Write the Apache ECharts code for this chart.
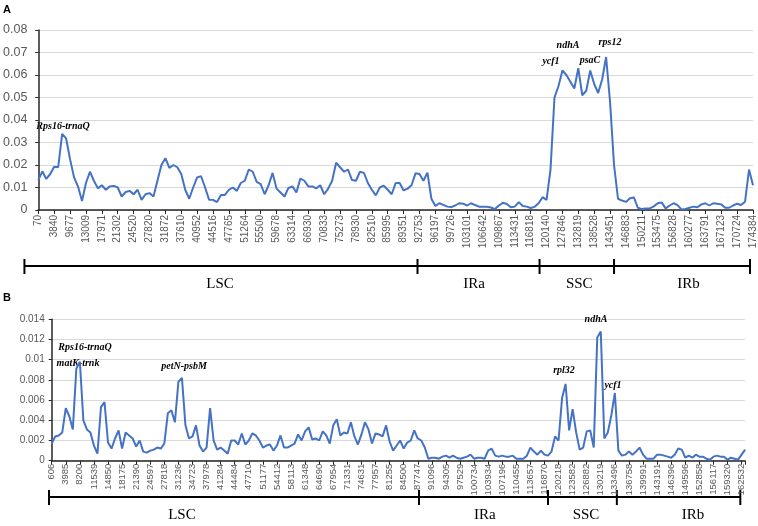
<!DOCTYPE html>
<html>
<head>
<meta charset="utf-8">
<script src="https://cdn.jsdelivr.net/npm/echarts@6/dist/echarts.min.js"></script>
<style>
  html, body { margin: 0; padding: 0; background: #fff; }
  #chart { width: 758px; height: 526px; }
</style>
</head>
<body>
<div id="chart"></div>
<script>
// tick labels (window start positions)
var ticksA = ['70','3840','9677','13009','17971','21302','24520','27820','31872','37610','40952','44516',
  '47765','51264','55500','59678','63314','66930','70833','75273','78930','82510','85995','89351','92753',
  '96197','99726','103101','106642','109867','113431','116818','120140','127846','132819','138528','143451',
  '146883','150211','153475','156828','160277','163791','167123','170724','174384'];
var ticksB = ['606','3985','8200','11539','14850','18175','21390','24597','27818','31236','34723','37978',
  '41284','44484','47710','51177','54412','58113','61348','64690','67954','71331','74631','77957','81255',
  '84500','87747','91096','94305','97529','100734','103934','107196','110455','113657','116870','120218',
  '123582','126882','130219','133496','136758','139991','143191','146396','149596','152858','156117',
  '159320','162532'];

// nucleotide diversity, 4 samples per tick interval
var valsA = [0.0133,0.0172,0.0138,0.016,0.0192,0.019,0.0338,0.0318,0.0225,0.0145,
  0.0104,0.004,0.012,0.017,0.013,0.0096,0.011,0.009,0.0105,0.0107,
  0.010,0.006,0.008,0.0085,0.007,0.009,0.0045,0.007,0.0075,0.006,
  0.013,0.020,0.023,0.0187,0.020,0.019,0.016,0.009,0.005,0.010,
  0.0145,0.015,0.010,0.0046,0.0045,0.0035,0.0067,0.0067,0.009,0.010,
  0.0085,0.012,0.013,0.018,0.017,0.0125,0.0115,0.007,0.011,0.0165,
  0.0095,0.0078,0.006,0.0098,0.0105,0.0078,0.014,0.013,0.0105,0.0105,
  0.0096,0.011,0.007,0.0095,0.013,0.021,0.019,0.017,0.018,0.0133,
  0.013,0.017,0.0165,0.012,0.009,0.0065,0.010,0.0108,0.009,0.007,
  0.012,0.012,0.0087,0.0095,0.011,0.0163,0.016,0.013,0.0166,0.005,
  0.0018,0.003,0.0023,0.0015,0.0013,0.002,0.003,0.0028,0.002,0.003,
  0.0022,0.0015,0.0015,0.0014,0.0011,0.0004,0.002,0.0032,0.0027,0.0012,
  0.0015,0.0035,0.0018,0.0015,0.0009,0.0014,0.003,0.0057,0.0045,0.018,
  0.050,0.055,0.062,0.060,0.057,0.054,0.063,0.051,0.053,0.062,
  0.056,0.052,0.058,0.068,0.048,0.020,0.005,0.0042,0.0036,0.0052,
  0.0056,0.001,0.0004,0.0007,0.0007,0.0016,0.003,0.0033,0.0007,0.002,
  0.003,0.0022,0.0002,0.0005,0.001,0.0015,0.0012,0.0025,0.003,0.002,
  0.003,0.0028,0.0025,0.001,0.001,0.002,0.0028,0.0022,0.0037,0.018,
  0.011];
var valsB = [0.0017,0.0024,0.0025,0.0028,0.0052,0.0044,0.0031,0.0091,0.0098,0.004,
  0.0031,0.0028,0.0015,0.0007,0.0053,0.0058,0.0018,0.0012,0.0022,0.003,
  0.0012,0.0028,0.0025,0.0022,0.0014,0.002,0.0009,0.0008,0.001,0.0011,
  0.0013,0.0012,0.0017,0.0047,0.005,0.0038,0.0078,0.0082,0.0035,0.0022,
  0.0024,0.0035,0.0015,0.0009,0.0013,0.0052,0.002,0.0011,0.0013,0.001,
  0.0007,0.002,0.002,0.0016,0.0027,0.0016,0.002,0.0027,0.0025,0.002,
  0.0013,0.0015,0.0016,0.001,0.0015,0.0025,0.0013,0.0013,0.0015,0.0017,
  0.0026,0.002,0.0029,0.0033,0.0021,0.0022,0.002,0.0029,0.0025,0.0017,
  0.0035,0.0041,0.0025,0.0028,0.0027,0.0038,0.0024,0.0016,0.0026,0.0038,
  0.0031,0.0017,0.0027,0.0026,0.0024,0.0035,0.0019,0.001,0.0015,0.002,
  0.0012,0.0018,0.002,0.003,0.0022,0.002,0.0013,0.0002,0.0003,0.0003,
  0.0002,0.0004,0.0005,0.0003,0.0005,0.0003,0.0002,0.0003,0.0004,0.0006,
  0.0002,0.0003,0.0003,0.0002,0.001,0.0012,0.0005,0.0004,0.0005,0.0004,
  0.0004,0.0005,0.0002,0.0002,0.0002,0.0005,0.0013,0.0009,0.0006,0.001,
  0.0006,0.0005,0.0009,0.0024,0.002,0.0062,0.0076,0.003,0.0051,0.0028,
  0.0011,0.0013,0.0029,0.003,0.0013,0.0122,0.0128,0.0022,0.0028,0.0045,
  0.0067,0.001,0.0005,0.0006,0.0009,0.0006,0.0009,0.0013,0.0006,0.0002,
  0.0002,0.0002,0.0006,0.0006,0.0005,0.0004,0.0003,0.0006,0.0012,0.0011,
  0.0003,0.0005,0.0003,0.0006,0.0004,0.0004,0.0002,0.0001,0.0004,0.0005,
  0.0004,0.0004,0.0001,0.0003,0.0002,0.0001,0.0006,0.0011];
var perTick = 4;

// genome regions, boundaries in tick units; label centre in tick units
var regionNames = ['LSC', 'IRa', 'SSC', 'IRb'];
var bordersA = [-0.875, 23.875, 31.56, 36.25, 44.81];
var labelAtA = [11.44, 27.44, 34.06, 40.94];
var bordersB = [-0.19, 26.09, 35.25, 40.14, 48.91];
var labelAtB = [9.25, 30.77, 37.95, 45.55];

function toPairs(vals) {
  var out = [];
  for (var i = 0; i < vals.length; i++) out.push([i / perTick, vals[i]]);
  return out;
}

var lineBlue = '#4472C4';
var labelGray = '#595959';

function xAxisFor(idx, ticks, max, fontSize, margin) {
  return {
    gridIndex: idx, type: 'value', min: 0, max: max, interval: 1,
    axisLine: {lineStyle: {color: '#262626', width: 1.5}},
    axisTick: {show: true, length: 4, lineStyle: {color: '#262626'}},
    splitLine: {show: false},
    axisLabel: {
      rotate: 90, margin: margin, color: labelGray, fontSize: fontSize, fontFamily: 'Liberation Sans',
      showMaxLabel: true,
      formatter: function (v) { return ticks[v] !== undefined ? ticks[v] : ''; }
    }
  };
}
function yAxisFor(idx, max, interval, fontSize, margin) {
  return {
    gridIndex: idx, type: 'value', min: 0, max: max, interval: interval,
    axisLine: {show: true, lineStyle: {color: '#262626', width: 1.5}},
    axisTick: {show: true, length: 3, lineStyle: {color: '#262626'}},
    splitLine: {lineStyle: {color: '#d9d9d9', width: 1}},
    axisLabel: {color: labelGray, fontSize: fontSize, fontFamily: 'Liberation Sans', margin: margin}
  };
}

var chart = echarts.init(document.getElementById('chart'), null, {renderer: 'canvas'});
chart.setOption({
  animation: false,
  grid: [
    {left: 33, top: 30, width: 720, height: 180},
    {left: 51.7, top: 319.3, width: 693.4, height: 141.4}
  ],
  xAxis: [xAxisFor(0, ticksA, 45, 10, 5), xAxisFor(1, ticksB, 49.25, 9.5, 3)],
  yAxis: [yAxisFor(0, 0.08, 0.01, 12.5, 11), yAxisFor(1, 0.014, 0.002, 10, 7)],
  series: [
    {type: 'line', xAxisIndex: 0, yAxisIndex: 0, data: toPairs(valsA), showSymbol: false,
      lineStyle: {color: lineBlue, width: 2}},
    {type: 'line', xAxisIndex: 1, yAxisIndex: 1, data: toPairs(valsB), showSymbol: false,
      lineStyle: {color: lineBlue, width: 2}}
  ]
});

// region bars under each panel, placed through the x axis scale (linear, also outside the extent)
function regionGraphics(axisIdx, borders, labelAt, y, labelY) {
  var p0 = chart.convertToPixel({xAxisIndex: axisIdx}, 0);
  var unit = chart.convertToPixel({xAxisIndex: axisIdx}, 1) - p0;
  var px = function (v) { return p0 + v * unit; };
  var stroke = {stroke: '#000', lineWidth: 2};
  var g = [{type: 'line', shape: {x1: px(borders[0]), y1: y, x2: px(borders[borders.length - 1]), y2: y}, style: stroke}];
  borders.forEach(function (b) {
    g.push({type: 'line', shape: {x1: px(b), y1: y - 7, x2: px(b), y2: y + 8}, style: stroke});
  });
  regionNames.forEach(function (name, i) {
    g.push({type: 'text', x: px(labelAt[i]), y: labelY, style: {text: name, fill: '#000', align: 'center',
      verticalAlign: 'middle', font: '15px "Liberation Serif"'}});
  });
  return g;
}
function note(text, x, y) {
  return {type: 'text', x: x, y: y, style: {text: text, fill: '#000', align: 'center', verticalAlign: 'middle',
    font: 'italic bold 10px "Liberation Serif"'}};
}

var graphics = []
  .concat(regionGraphics(0, bordersA, labelAtA, 266, 284))
  .concat(regionGraphics(1, bordersB, labelAtB, 497, 515))
  .concat([
    {type: 'text', x: 3, y: 4, style: {text: 'A', font: 'bold 11px "Liberation Sans"', fill: '#000'}},
    {type: 'text', x: 3, y: 292, style: {text: 'B', font: 'bold 11px "Liberation Sans"', fill: '#000'}},
    note('Rps16-trnaQ', 63, 126), note('ycf1', 551, 61), note('ndhA', 568, 45), note('psaC', 590, 60), note('rps12', 610, 42),
    note('Rps16-trnaQ', 85, 347), note('matK-trnk', 78, 363), note('petN-psbM', 184, 366),
    note('rpl32', 564, 370), note('ndhA', 596, 319), note('ycf1', 613, 385)
  ]);
chart.setOption({graphic: graphics});
</script>
</body>
</html>
